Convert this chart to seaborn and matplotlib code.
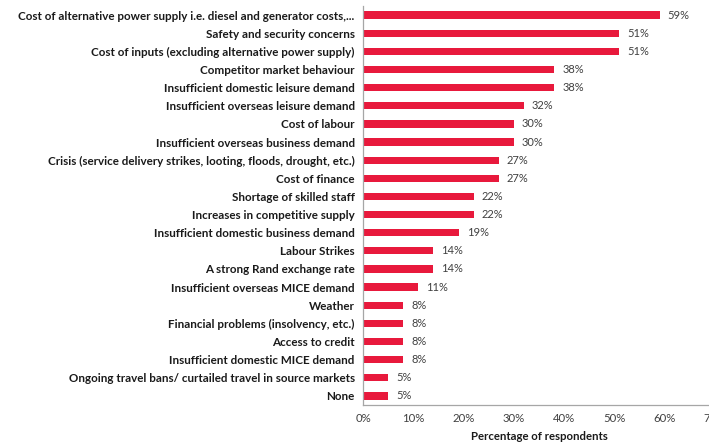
import matplotlib
matplotlib.use("Agg")
import matplotlib.pyplot as plt
from matplotlib.ticker import PercentFormatter, FixedLocator
import seaborn as sns
import pandas as pd

categories = [
    "Cost of alternative power supply i.e. diesel and generator costs,...",
    "Safety and security concerns",
    "Cost of inputs (excluding alternative power supply)",
    "Competitor market behaviour",
    "Insufficient domestic leisure demand",
    "Insufficient overseas leisure demand",
    "Cost of labour",
    "Insufficient overseas business demand",
    "Crisis (service delivery strikes, looting, floods, drought, etc.)",
    "Cost of finance",
    "Shortage of skilled staff",
    "Increases in competitive supply",
    "Insufficient domestic business demand",
    "Labour Strikes",
    "A strong Rand exchange rate",
    "Insufficient overseas MICE demand",
    "Weather",
    "Financial problems (insolvency, etc.)",
    "Access to credit",
    "Insufficient domestic MICE demand",
    "Ongoing travel bans/ curtailed travel in source markets",
    "None",
]
values = [59, 51, 51, 38, 38, 32, 30, 30, 27, 27, 22, 22, 19, 14, 14, 11, 8, 8, 8, 8, 5, 5]
x_ticks = [0, 10, 20, 30, 40, 50, 60, 70]

sns.set_theme(style="white")
plt.rcParams["font.family"] = ["Lato", "DejaVu Sans"]

df = pd.DataFrame({"factor": categories, "pct": values})

fig = plt.figure(figsize=(7.09, 4.46), dpi=100)
ax = fig.add_axes([363 / 709, 41 / 446, (715 - 363) / 709, 399 / 446])

sns.barplot(data=df, y="factor", x="pct", orient="h", color="#E8193C",
            width=0.4, saturation=1, ax=ax, edgecolor="none")

ax.set_xlim(0, 70)
ax.set_ylim(len(categories) - 0.5, -0.5)
ax.xaxis.set_major_locator(FixedLocator(x_ticks))
ax.xaxis.set_major_formatter(PercentFormatter(decimals=0))
ax.tick_params(axis="x", length=0, pad=6, labelsize=8.2, labelcolor="#404040")

ax.set_ylabel("")
ax.set_xlabel("Percentage of respondents", fontsize=8.2, fontweight="bold",
              color="#1a1a1a", labelpad=5)

ax.tick_params(axis="y", which="major", length=0, pad=6, labelsize=8.4)
for lbl in ax.get_yticklabels():
    lbl.set_fontweight("bold")
    lbl.set_color("#1a1a1a")
ax.yaxis.set_minor_locator(FixedLocator([i - 0.5 for i in range(len(categories) + 1)]))
ax.tick_params(axis="y", which="minor", length=3, width=0.8, color="#a0a0a0", direction="out")

for side in ("top", "right"):
    ax.spines[side].set_visible(False)
for side in ("left", "bottom"):
    ax.spines[side].set_color("#a6a6a6")
    ax.spines[side].set_linewidth(0.9)

for i, v in enumerate(values):
    ax.text(v + 1.6, i, f"{v}%", va="center", ha="left", fontsize=8, color="#404040")

fig.savefig("out.png", dpi=100)
